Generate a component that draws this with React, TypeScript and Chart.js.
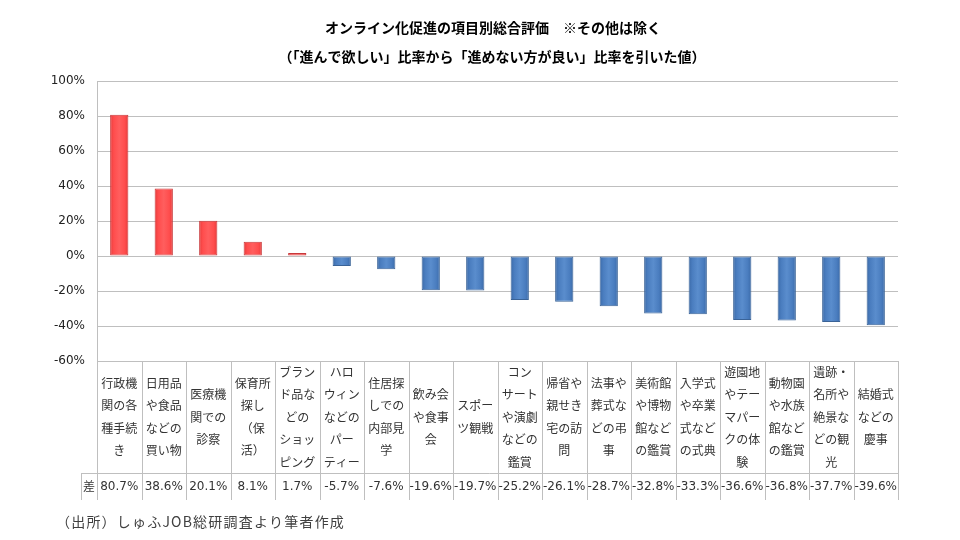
import React, { useEffect, useRef } from "react";
import { Chart, registerables } from "chart.js";

Chart.register(...registerables);

const titleLines = [
  "オンライン化促進の項目別総合評価　※その他は除く",
  "（「進んで欲しい」比率から「進めない方が良い」比率を引いた値）",
];

const sourceNote = "（出所）しゅふJOB総研調査より筆者作成";
const rowHeader = "差";

const categoryLines: string[][] = [
  ["行政機", "関の各", "種手続", "き"],
  ["日用品", "や食品", "などの", "買い物"],
  ["医療機", "関での", "診察"],
  ["保育所", "探し", "（保", "活）"],
  ["ブラン", "ド品な", "どの", "ショッ", "ピング"],
  ["ハロ", "ウィン", "などの", "パー", "ティー"],
  ["住居探", "しでの", "内部見", "学"],
  ["飲み会", "や食事", "会"],
  ["スポー", "ツ観戦"],
  ["コン", "サート", "や演劇", "などの", "鑑賞"],
  ["帰省や", "親せき", "宅の訪", "問"],
  ["法事や", "葬式な", "どの弔", "事"],
  ["美術館", "や博物", "館など", "の鑑賞"],
  ["入学式", "や卒業", "式など", "の式典"],
  ["遊園地", "やテー", "マパー", "クの体", "験"],
  ["動物園", "や水族", "館など", "の鑑賞"],
  ["遺跡・", "名所や", "絶景な", "どの観", "光"],
  ["結婚式", "などの", "慶事"],
];

const categories = categoryLines.map((l) => l.join(""));

const values = [
  80.7, 38.6, 20.1, 8.1, 1.7, -5.7, -7.6, -19.6, -19.7, -25.2, -26.1, -28.7,
  -32.8, -33.3, -36.6, -36.8, -37.7, -39.6,
];

const yMin = -60;
const yMax = 100;
const yStep = 20;

const BAR_PCT = 0.41;
const CAT_ROW_H = 112;
const VAL_ROW_H = 27;
const HEADER_W = 16;
const GRID = "#BFBFBF";
const TEXT = "#333333";
const CJK = '"Noto Sans CJK JP", sans-serif';
const NUM = '"DejaVu Sans", "Noto Sans CJK JP", sans-serif';

const tablePlugin = {
  id: "tablePlugin",
  afterDraw(chart: any) {
    const ctx: CanvasRenderingContext2D = chart.ctx;
    const { left, right, bottom } = chart.chartArea;
    const xs = chart.scales.x;
    const n = categories.length;
    const cw = (right - left) / n;
    const midY = bottom + CAT_ROW_H;
    const endY = midY + VAL_ROW_H;

    ctx.save();
    // titles
    ctx.fillStyle = "#000";
    ctx.textAlign = "center";
    ctx.textBaseline = "middle";
    ctx.font = `bold 14px ${CJK}`;
    ctx.fillText(titleLines[0], 493, 28);
    ctx.font = `bold 14px ${CJK}`;
    ctx.fillText(titleLines[1], 492, 57);

    // table lines
    ctx.strokeStyle = GRID;
    ctx.lineWidth = 1;
    ctx.beginPath();
    for (let i = 0; i <= n; i++) {
      const bx = Math.round(left + i * cw) + 0.5;
      ctx.moveTo(bx, bottom);
      ctx.lineTo(bx, endY);
    }
    const hx = left - HEADER_W;
    ctx.moveTo(Math.round(hx) + 0.5, midY);
    ctx.lineTo(Math.round(hx) + 0.5, endY);
    ctx.moveTo(hx, Math.round(midY) + 0.5);
    ctx.lineTo(right + 0.5, Math.round(midY) + 0.5);
    ctx.stroke();

    // category labels
    ctx.fillStyle = TEXT;
    ctx.font = `12px ${CJK}`;
    const lh = 22.5;
    const cy = bottom + CAT_ROW_H / 2;
    categoryLines.forEach((lines, i) => {
      const cx = xs.getPixelForValue(i);
      const y0 = cy - ((lines.length - 1) * lh) / 2;
      lines.forEach((t, j) => ctx.fillText(t, cx, y0 + j * lh));
    });

    // value row
    const vy = midY + VAL_ROW_H / 2;
    ctx.font = `12px ${NUM}`;
    values.forEach((v, i) => {
      ctx.fillText(v.toFixed(1) + "%", xs.getPixelForValue(i), vy);
    });
    ctx.font = `12px ${CJK}`;
    ctx.fillText(rowHeader, left - HEADER_W / 2, vy);

    // source note
    ctx.textAlign = "left";
    ctx.fillStyle = "#404040";
    ctx.font = `14px ${CJK}`;
    (ctx as any).letterSpacing = "1.2px";
    ctx.fillText(sourceNote, 56, 522);
    ctx.restore();
  },
};

function barFill(c: any) {
  const chart = c.chart;
  const area = chart.chartArea;
  const v = c.raw as number;
  const pos = v >= 0;
  if (!area) return pos ? "#FF4F4F" : "#4A7EBE";
  const cw = (area.right - area.left) / categories.length;
  const bw = cw * BAR_PCT;
  const cx = chart.scales.x.getPixelForValue(c.dataIndex);
  const g = chart.ctx.createLinearGradient(cx - bw / 2, 0, cx + bw / 2, 0);
  if (pos) {
    g.addColorStop(0, "#E63B3B");
    g.addColorStop(0.2, "#FF4D4D");
    g.addColorStop(0.5, "#FF5E5E");
    g.addColorStop(0.8, "#FF4D4D");
    g.addColorStop(1, "#E63B3B");
  } else {
    g.addColorStop(0, "#3B6AA8");
    g.addColorStop(0.2, "#4A7DBF");
    g.addColorStop(0.5, "#5A8DCD");
    g.addColorStop(0.8, "#4A7DBF");
    g.addColorStop(1, "#3B6AA8");
  }
  return g;
}

export default function App() {
  const ref = useRef<HTMLCanvasElement | null>(null);
  useEffect(() => {
    if (!ref.current) return;
    const chart = new Chart(ref.current, {
      type: "bar",
      data: {
        labels: categories,
        datasets: [
          {
            data: values,
            backgroundColor: barFill as any,
            borderColor: (c: any) => ((c.raw as number) >= 0 ? "#C8383A" : "#3A6397"),
            borderWidth: 1,
            borderSkipped: false,
            barPercentage: BAR_PCT,
            categoryPercentage: 1,
          },
        ],
      },
      options: {
        responsive: false,
        animation: false,
        devicePixelRatio: 1,
        layout: { padding: { left: 0, right: 62, top: 81, bottom: 179 } },
        plugins: {
          legend: { display: false },
          title: { display: false },
          tooltip: { enabled: false },
        },
        scales: {
          x: { display: false },
          y: {
            min: yMin,
            max: yMax,
            afterFit: (s: any) => {
              s.width = 97;
            },
            ticks: {
              stepSize: yStep,
              padding: 12,
              color: "#222",
              font: { family: NUM, size: 12 },
              callback: (v: any) => `${v}%`,
            },
            grid: { color: GRID, drawTicks: false, lineWidth: 1 },
            border: { display: true, color: GRID },
          },
        },
      },
      plugins: [tablePlugin],
    });
    return () => chart.destroy();
  }, []);
  return (
    <div style={{ position: "absolute", left: 0, top: 0, width: 960, height: 540, background: "#fff" }}>
      <canvas ref={ref} width={960} height={540} />
    </div>
  );
}
